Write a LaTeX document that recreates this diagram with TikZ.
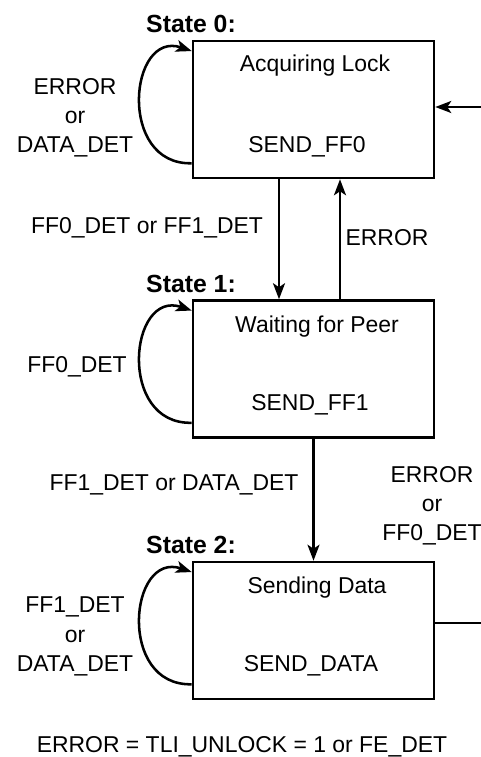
\documentclass[tikz,border=0pt]{standalone}
\usepackage{fontspec}
\setmainfont{Liberation Sans}
\usetikzlibrary{arrows.meta}
\begin{document}
\begin{tikzpicture}[x=0.75pt,y=-0.75pt,
  statebox/.style={draw,line width=1.9pt,rectangle,inner sep=0pt,minimum width=180.75pt,minimum height=102.75pt},
  conn/.style={line width=1.9pt},
  arr/.style={conn,-{Stealth[length=12pt,width=9pt,inset=3pt]}},
  lbl/.style={anchor=base,inner sep=0pt,font=\fontsize{17.2pt}{20.6pt}\selectfont},
  ttl/.style={anchor=base,inner sep=0pt,font=\fontsize{18.6pt}{22pt}\selectfont\bfseries}]
\useasboundingbox (0,0) rectangle (481,757);
% boxes
\node[statebox] (b0) at (313.5,109.5) {};
\node[statebox] (b1) at (313.5,369) {};
\node[statebox] (b2) at (313.5,630.5) {};
% titles
\node[ttl] (t0) at (191,32) {State 0:};
\node[ttl] (t1) at (191,292) {State 1:};
\node[ttl] (t2) at (191,553) {State 2:};
% box texts
\node[lbl] (a0) at (315,71) {Acquiring Lock};
\node[lbl] (s0) at (307,152) {SEND\_FF0};
\node[lbl] (a1) at (317,332) {Waiting for Peer};
\node[lbl] (s1) at (310,410) {SEND\_FF1};
\node[lbl] (a2) at (317,593) {Sending Data};
\node[lbl] (s2) at (311,671) {SEND\_DATA};
% loop labels
\node[lbl] (l0a) at (75,94) {ERROR};
\node[lbl] (l0b) at (75,123) {or};
\node[lbl] (l0c) at (75,152) {DATA\_DET};
\node[lbl] (l1) at (77,372) {FF0\_DET};
\node[lbl] (l2a) at (75,612) {FF1\_DET};
\node[lbl] (l2b) at (75,642) {or};
\node[lbl] (l2c) at (75,671) {DATA\_DET};
% transition labels
\node[lbl] (e01) at (147,233) {FF0\_DET or FF1\_DET};
\node[lbl] (e10) at (387,245) {ERROR};
\node[lbl] (e12) at (174,490) {FF1\_DET or DATA\_DET};
\node[lbl] (e20a) at (432,482) {ERROR};
\node[lbl] (e20b) at (432,511) {or};
\node[lbl] (e20c) at (432,540) {FF0\_DET};
\node[lbl] (note) at (242,752) {ERROR = TLI\_UNLOCK = 1 or FE\_DET};
% helper coordinates
\coordinate (k1) at (279,0);
\coordinate (k2) at (340,0);
\coordinate (r0) at (483,107);
\coordinate (r2) at (483,623);
% connectors
\draw[arr] (b0.south -| k1) -- (b1.north -| k1);
\draw[arr] (b1.north -| k2) -- (b0.south -| k2);
\draw[arr] (b1.south) -- (b2.north);
\draw[arr] (r0) -- (b0.east |- r0);
\draw[conn] (b2.east |- r2) -- (r2);
% self loops
\foreach \b in {b0,b1,b2}{
  \draw[arr] ([yshift=12pt]\b.south west) .. controls +(-56pt,-1.5pt) and +(-47pt,16pt) .. ([yshift=-8.5pt]\b.north west);
}
\end{tikzpicture}
\end{document}
